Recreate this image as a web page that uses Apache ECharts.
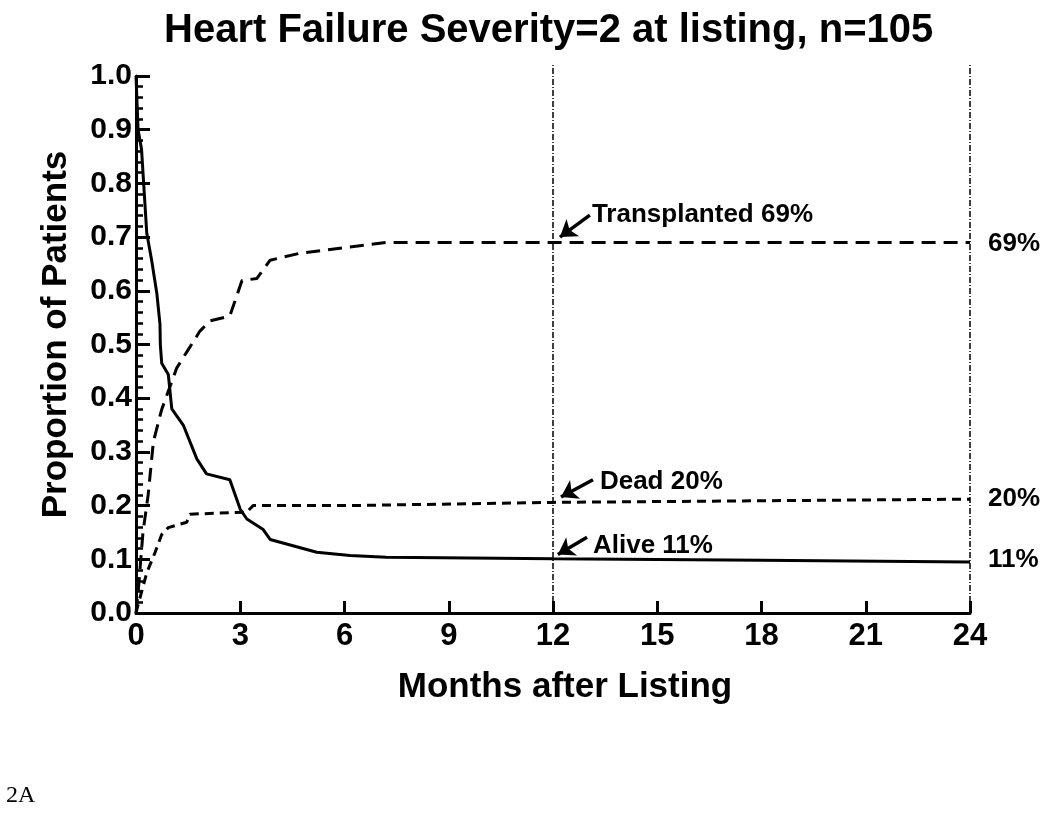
<!DOCTYPE html>
<html>
<head>
<meta charset="utf-8">
<script src="https://cdn.jsdelivr.net/npm/echarts@6/dist/echarts.min.js"></script>
<style>
  html, body { margin: 0; padding: 0; background: #fff; }
  #main { width: 1050px; height: 824px; }
</style>
</head>
<body>
<div id="main"></div>
<script>
// months after listing vs proportion of patients
var alive = [[0, 1.0], [0.06, 0.9], [0.16, 0.863], [0.31, 0.707], [0.45, 0.657], [0.6, 0.595],
  [0.69, 0.538], [0.7, 0.5], [0.74, 0.465], [0.93, 0.444], [1.03, 0.38], [1.36, 0.35],
  [1.75, 0.287], [2.03, 0.259], [2.7, 0.248], [3.0, 0.193], [3.19, 0.175], [3.65, 0.156],
  [3.86, 0.137], [5.2, 0.113], [6.16, 0.107], [7.2, 0.104], [12, 0.101], [18, 0.098], [24, 0.095]]
var transplanted = [[0, 0], [0.06, 0.037], [0.2, 0.15], [0.35, 0.22], [0.5, 0.319], [0.74, 0.379],
  [1.17, 0.456], [1.5, 0.49], [1.84, 0.525], [2.13, 0.544], [2.7, 0.553], [3.05, 0.619],
  [3.48, 0.623], [3.86, 0.657], [4.72, 0.67], [6.07, 0.681], [7.2, 0.69], [12, 0.69], [24, 0.69]]
var dead = [[0, 0], [0.05, 0.013], [0.31, 0.075], [0.55, 0.113], [0.74, 0.146], [0.93, 0.159],
  [1.46, 0.169], [1.55, 0.184], [3.19, 0.188], [3.37, 0.2], [6.16, 0.2], [12, 0.206], [24, 0.212]]

var refMonths = [12, 24]
var refTop = 1.022
// annotation arrows: [tail, head]
var arrows = [
  [[13.06, 0.741], [12.2, 0.7]],
  [[13.15, 0.248], [12.23, 0.216]],
  [[12.98, 0.141], [12.14, 0.109]]
]
var notes = [[13.12, 0.741, 'Transplanted 69%'], [13.35, 0.244, 'Dead 20%'], [13.15, 0.126, 'Alive 11%']]
var endLabels = [[24, 0.687, '69%'], [24, 0.212, '20%'], [24, 0.0995, '11%']]

var font = 'Liberation Sans, Arial, sans-serif'
var myChart = echarts.init(document.getElementById('main'))

var arrowData = arrows.map(function (a) {
  return [{ coord: a[0] }, { coord: a[1] }]
})

// dash-dot reference lines at 12 and 24 months
var refSeries = refMonths.map(function (m) {
  return {
    type: 'line', data: [[m, 0], [m, refTop]], symbol: 'none', clip: false, silent: true,
    lineStyle: { color: '#000', width: 1.5, type: [6, 2, 1, 2] }
  }
})

var options = {
  animation: false,
  backgroundColor: '#fff',
  title: {
    text: 'Heart Failure Severity=2 at listing, n=105',
    left: 159,
    top: 6,
    textStyle: { fontFamily: font, fontSize: 40, fontWeight: 'bold', color: '#000' }
  },
  graphic: [{
    type: 'text', left: 6, top: 784,
    style: { text: '2A', font: '24px "Liberation Serif", serif', fill: '#000' }
  }],
  grid: { left: 136, right: 80, top: 76, bottom: 211 },
  xAxis: {
    type: 'value', min: 0, max: 24, interval: 3,
    name: 'Months after Listing', nameLocation: 'middle', nameGap: 57,
    nameTextStyle: { fontFamily: font, fontSize: 35, fontWeight: 'bold', color: '#000', padding: [0, 0, 0, 24] },
    axisLine: { lineStyle: { color: '#000', width: 3 } },
    axisTick: { inside: true, length: 12, lineStyle: { color: '#000', width: 3 } },
    axisLabel: { fontFamily: font, fontSize: 31, fontWeight: 'bold', color: '#000', margin: 8 },
    splitLine: { show: false }
  },
  yAxis: {
    type: 'value', min: 0, max: 1, interval: 0.1,
    name: 'Proportion of Patients', nameLocation: 'middle', nameGap: 62, nameRotate: 90,
    nameTextStyle: { fontFamily: font, fontSize: 35, fontWeight: 'bold', color: '#000', padding: [0, 0, 0, 20] },
    axisLine: { lineStyle: { color: '#000', width: 3 } },
    axisTick: { inside: true, length: 14, lineStyle: { color: '#000', width: 3 } },
    minorTick: { show: true, splitNumber: 5, length: 7, lineStyle: { color: '#000', width: 2.5 } },
    axisLabel: {
      fontFamily: font, fontSize: 30, fontWeight: 'bold', color: '#000', margin: 4,
      formatter: function (v) { return v.toFixed(1) }
    },
    splitLine: { show: false }
  },
  series: refSeries.concat([
    {
      name: 'Alive', type: 'line', data: alive, symbol: 'none', clip: false,
      lineStyle: { color: '#000', width: 3 }
    },
    {
      name: 'Transplanted', type: 'line', data: transplanted, symbol: 'none', clip: false,
      lineStyle: { color: '#000', width: 3, type: [14, 8] },
      markLine: {
        silent: true, symbol: ['none', 'arrow'], symbolSize: 16, label: { show: false },
        lineStyle: { color: '#000', width: 3.5, type: 'solid' },
        data: arrowData
      }
    },
    {
      name: 'Dead', type: 'line', data: dead, symbol: 'none', clip: false,
      lineStyle: { color: '#000', width: 3, type: [9, 6] }
    },
    {
      type: 'scatter', symbolSize: 0, clip: false, silent: true,
      itemStyle: { opacity: 1 },
      data: notes,
      label: {
        show: true, position: 'right', distance: 0,
        fontFamily: font, fontSize: 26, fontWeight: 'bold', color: '#000',
        formatter: function (p) { return p.data[2] }
      }
    },
    {
      type: 'scatter', symbolSize: 0, clip: false, silent: true,
      itemStyle: { opacity: 1 },
      data: endLabels,
      label: {
        show: true, position: 'right', distance: 18,
        fontFamily: font, fontSize: 26, fontWeight: 'bold', color: '#000',
        formatter: function (p) { return p.data[2] }
      }
    }
  ])
}
myChart.setOption(options)
</script>
</body>
</html>
